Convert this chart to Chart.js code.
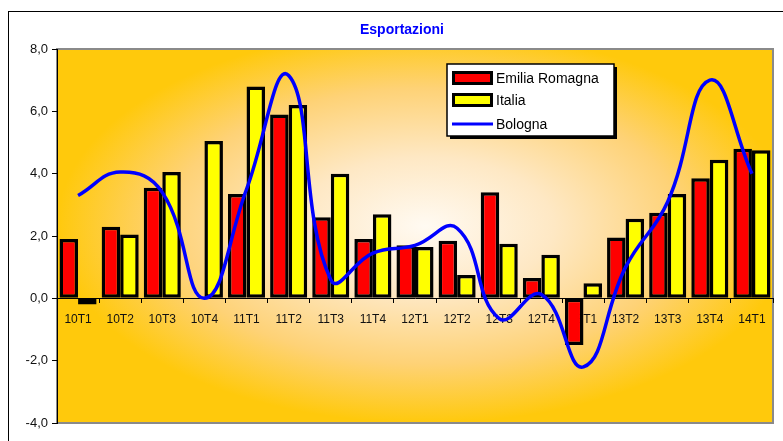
<!DOCTYPE html>
<html>
<head>
<meta charset="utf-8">
<script src="https://cdn.jsdelivr.net/npm/chart.js@4"></script>
<style>
  html, body { margin: 0; padding: 0; background: #fff; }
  #wrap { width: 783px; height: 441px; position: relative; }
</style>
</head>
<body>
<div id="wrap"><canvas id="exportChart" width="783" height="441"></canvas></div>
<script>
// quarters
const categories = ['10T1', '10T2', '10T3', '10T4', '11T1', '11T2', '11T3', '11T4', '12T1',
    '12T2', '12T3', '12T4', '13T1', '13T2', '13T3', '13T4', '14T1'];
const emiliaRomagna = [1.9, 2.3, 3.55, 0.0, 3.35, 5.9, 2.6, 1.9, 1.7, 1.85, 3.4, 0.65, -1.5, 1.95, 2.75, 3.85, 4.8];
const italia = [-0.2, 2.05, 4.05, 5.05, 6.8, 6.2, 4.0, 2.7, 1.65, 0.75, 1.75, 1.4, 0.48, 2.55, 3.35, 4.45, 4.75];
const bologna = [3.3, 4.05, 3.4, 0.0, 3.5, 7.15, 0.6, 1.45, 1.7, 2.25, -0.65, 0.12, -2.2, 1.0, 3.1, 7.0, 4.0];
const yTicks = [-4, -2, 0, 2, 4, 6, 8];
const chartTitle = 'Esportazioni';

const legendItems = [
    { label: 'Emilia Romagna', kind: 'bar', color: '#ff0000' },
    { label: 'Italia', kind: 'bar', color: '#ffff00' },
    { label: 'Bologna', kind: 'line', color: '#0000ff' }
];

const FONT = '"Liberation Sans", Arial, sans-serif';

// frame, gradient plot background, title and legend box
const backgroundPlugin = {
    id: 'plotBackground',
    beforeDraw(chart) {
        const ctx = chart.ctx;
        const a = chart.chartArea;
        ctx.save();
        ctx.strokeStyle = '#000';
        ctx.lineWidth = 1;
        ctx.strokeRect(8.5, 11.5, 820, 500);

        const cx = (a.left + a.right) / 2 + 10;
        const cy = (a.top + a.bottom) / 2 - 10;
        ctx.beginPath();
        ctx.rect(a.left, a.top, a.right - a.left, a.bottom - a.top);
        ctx.clip();
        ctx.translate(cx, cy);
        ctx.scale((a.right - a.left) / 2 + 10, (a.bottom - a.top) / 2 + 10);
        const g = ctx.createRadialGradient(0, 0, 0, 0, 0, 1);
        g.addColorStop(0, '#fffaf2');
        g.addColorStop(0.35, '#fee8c4');
        g.addColorStop(0.7, '#fed276');
        g.addColorStop(1, '#ffc90c');
        ctx.fillStyle = g;
        ctx.fillRect(-1.5, -1.5, 3, 3);
        ctx.restore();

        ctx.save();
        ctx.strokeStyle = '#8a8a8a';
        ctx.lineWidth = 2;
        ctx.strokeRect(a.left, a.top, a.right - a.left, a.bottom - a.top);
        ctx.restore();
    },
    afterDraw(chart) {
        const ctx = chart.ctx;
        ctx.save();
        ctx.fillStyle = '#0000ff';
        ctx.font = 'bold 14px ' + FONT;
        ctx.textAlign = 'center';
        ctx.textBaseline = 'middle';
        ctx.fillText(chartTitle, 402, 30);

        const x = 447, y = 64, w = 167, h = 72;
        ctx.fillStyle = '#000';
        ctx.fillRect(x + 3, y + 3, w, h);
        ctx.fillStyle = '#fff';
        ctx.fillRect(x, y, w, h);
        ctx.strokeStyle = '#000';
        ctx.lineWidth = 1.5;
        ctx.strokeRect(x, y, w, h);
        ctx.font = '14px ' + FONT;
        ctx.textAlign = 'left';
        const rows = [78, 100, 124];
        legendItems.forEach(function(item, i) {
            const ry = rows[i];
            if (item.kind === 'bar') {
                ctx.fillStyle = '#000';
                ctx.fillRect(452, ry - 7, 41, 14);
                ctx.fillStyle = item.color;
                ctx.fillRect(455, ry - 4, 35, 8);
            } else {
                ctx.strokeStyle = item.color;
                ctx.lineWidth = 3;
                ctx.beginPath();
                ctx.moveTo(452, ry);
                ctx.lineTo(493, ry);
                ctx.stroke();
            }
            ctx.fillStyle = '#000';
            ctx.fillText(item.label, 496, ry + 1);
        });
        ctx.restore();
    }
};

const ctx = document.getElementById('exportChart').getContext('2d');
const chart = new Chart(ctx, {
    type: 'bar',
    data: {
        labels: categories,
        datasets: [
            {
                type: 'line',
                label: 'Bologna',
                data: bologna,
                borderColor: '#0000ff',
                borderWidth: 3.5,
                pointRadius: 0,
                tension: 0.45,
                fill: false,
                order: 0
            },
            {
                label: 'Emilia Romagna',
                data: emiliaRomagna,
                backgroundColor: '#ff0000',
                borderColor: '#000000',
                borderWidth: 3.5,
                borderSkipped: false,
                categoryPercentage: 0.88,
                barPercentage: 1.0,
                order: 1
            },
            {
                label: 'Italia',
                data: italia,
                backgroundColor: '#ffff00',
                borderColor: '#000000',
                borderWidth: 3.5,
                borderSkipped: false,
                categoryPercentage: 0.88,
                barPercentage: 1.0,
                order: 1
            }
        ]
    },
    options: {
        responsive: false,
        animation: false,
        layout: {
            padding: { left: 8, right: 10, top: 49, bottom: 18 }
        },
        plugins: {
            legend: { display: false },
            tooltip: { enabled: false },
            title: { display: false }
        },
        scales: {
            x: {
                position: { y: 0 },
                grid: {
                    display: true,
                    offset: true,
                    drawOnChartArea: false,
                    drawTicks: true,
                    tickLength: 4,
                    color: '#000'
                },
                border: { display: true, color: '#000', width: 1 },
                ticks: {
                    color: '#111',
                    padding: 10,
                    maxRotation: 0,
                    autoSkip: false,
                    font: { family: FONT, size: 12 }
                }
            },
            y: {
                min: yTicks[0],
                max: yTicks[yTicks.length - 1],
                afterBuildTicks: function(scale) {
                    scale.ticks = yTicks.map(function(v) { return { value: v }; });
                },
                afterFit: function(scale) {
                    scale.width = 49;
                },
                grid: {
                    drawOnChartArea: false,
                    drawTicks: true,
                    tickLength: 5,
                    color: '#000'
                },
                border: { display: true, color: '#000', width: 1 },
                ticks: {
                    color: '#111',
                    padding: 4,
                    font: { family: FONT, size: 13 },
                    callback: function(v) { return v.toFixed(1).replace('.', ','); }
                }
            }
        }
    },
    plugins: [backgroundPlugin]
});
</script>
</body>
</html>
